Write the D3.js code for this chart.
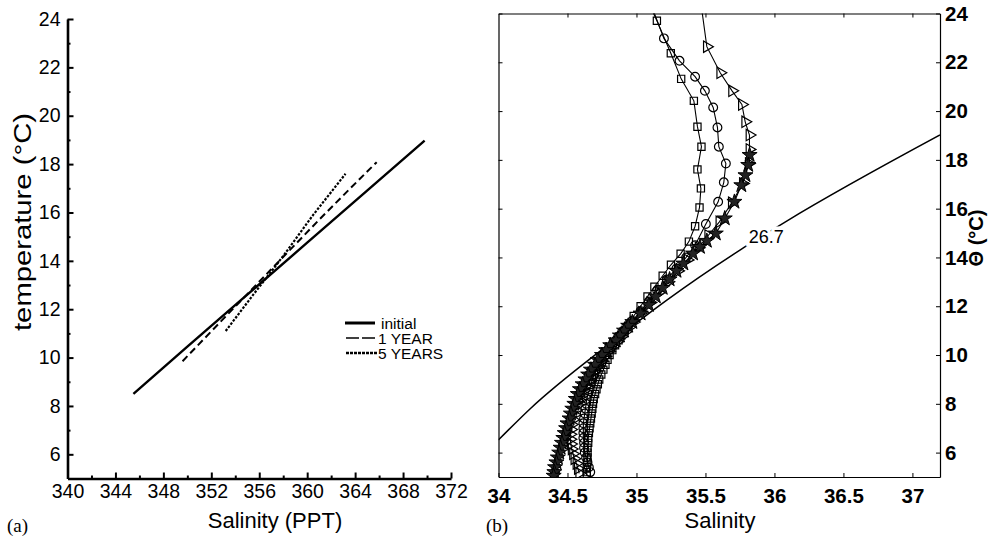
<!DOCTYPE html>
<html>
<head>
<meta charset="utf-8">
<script src="https://cdn.jsdelivr.net/npm/d3@7"></script>
<style>
  body { margin: 0; background: #fff; }
  svg { font-family: "Liberation Sans", Arial, sans-serif; }
</style>
</head>
<body>
<div id="chart"></div>
<script>
// ---- panel (a): T-S lines, salinity in PPT ----
const initialSal = [345.5, 350, 355, 360, 365, 369.8];
const initialTemp = [8.5, 10.45, 12.6, 14.75, 16.9, 18.97];
const year1Sal = [349.6, 353, 357, 361, 363.5, 365.8];
const year1Temp = [9.85, 11.6, 13.65, 15.7, 16.95, 18.08];
const year5Sal = [353.2, 355.5, 358, 360.5, 363.2];
const year5Temp = [11.1, 12.6, 14.2, 15.9, 17.6];
const legendLabels = ["initial", "1 YEAR", "5 YEARS"];
const xTicksA = [340, 344, 348, 352, 356, 360, 364, 368, 372];
const xMinorA = [342, 346, 350, 354, 358, 362, 366, 370];
const yTicksA = [6, 8, 10, 12, 14, 16, 18, 20, 22, 24];
const yMinorA = [7, 9, 11, 13, 15, 17, 19, 21, 23];

// ---- panel (b): theta-S profiles [salinity, theta] ----
const squares = [[35.10,24.3],[35.148,23.70],[35.249,22.37],[35.324,21.32],[35.416,20.42],[35.442,19.36],[35.471,18.54],[35.442,17.61],[35.467,16.83],[35.457,16.05],[35.425,15.28],[35.38,14.65],[35.32,14.15],[35.25,13.7],[35.19,13.25],[35.13,12.8],[35.08,12.4],[35.03,12.0],[34.98,11.6],[34.94,11.2],[34.915,11.0],[34.89,10.8],[34.87,10.6],[34.845,10.4],[34.825,10.2],[34.805,10.0],[34.79,9.8],[34.775,9.6],[34.76,9.4],[34.745,9.2],[34.73,9.0],[34.72,8.8],[34.71,8.6],[34.70,8.4],[34.69,8.2],[34.685,8.0],[34.68,7.8],[34.675,7.6],[34.67,7.4],[34.665,7.2],[34.66,7.0],[34.655,6.8],[34.65,6.6],[34.65,6.4],[34.645,6.2],[34.645,6.0],[34.645,5.8],[34.645,5.6],[34.64,5.4],[34.64,5.2],[34.64,5.05]];
const circles = [[35.11,24.3],[35.199,22.98],[35.312,22.06],[35.425,21.41],[35.496,20.83],[35.556,20.15],[35.587,19.33],[35.597,18.54],[35.648,17.85],[35.633,17.08],[35.592,16.28],[35.503,15.37],[35.425,14.50],[35.36,14.0],[35.29,13.55],[35.22,13.1],[35.15,12.65],[35.09,12.2],[35.03,11.8],[34.97,11.4],[34.94,11.2],[34.91,11.0],[34.88,10.8],[34.85,10.6],[34.825,10.4],[34.80,10.2],[34.775,10.0],[34.75,9.8],[34.73,9.6],[34.71,9.4],[34.695,9.2],[34.68,9.0],[34.67,8.8],[34.66,8.6],[34.65,8.4],[34.64,8.2],[34.635,8.0],[34.63,7.8],[34.625,7.6],[34.62,7.4],[34.615,7.2],[34.615,7.0],[34.615,6.8],[34.615,6.6],[34.62,6.4],[34.62,6.2],[34.625,6.0],[34.635,5.8],[34.645,5.6],[34.655,5.4],[34.665,5.2]];
const triangles = [[35.47,24.3],[35.51,22.64],[35.607,21.57],[35.693,20.83],[35.764,20.27],[35.788,19.56],[35.819,19.02],[35.819,18.43],[35.814,17.85],[35.771,17.03],[35.691,16.24],[35.601,15.46],[35.52,14.9],[35.45,14.4],[35.37,13.9],[35.30,13.45],[35.23,13.0],[35.16,12.55],[35.10,12.15],[35.04,11.75],[34.98,11.35],[34.95,11.15],[34.92,10.95],[34.89,10.75],[34.86,10.55],[34.83,10.35],[34.80,10.15],[34.775,9.95],[34.75,9.75],[34.725,9.55],[34.70,9.35],[34.68,9.15],[34.66,8.95],[34.64,8.75],[34.62,8.55],[34.605,8.35],[34.59,8.15],[34.575,7.95],[34.56,7.75],[34.55,7.55],[34.54,7.35],[34.53,7.15],[34.525,6.95],[34.52,6.75],[34.52,6.55],[34.525,6.35],[34.53,6.15],[34.54,5.95],[34.55,5.75],[34.565,5.55],[34.575,5.35],[34.585,5.15]];
const stars = [[35.82,18.2],[35.81,17.79],[35.79,17.37],[35.76,16.96],[35.71,16.28],[35.64,15.6],[35.575,14.98],[35.51,14.68],[35.46,14.43],[35.41,14.16],[35.34,13.75],[35.29,13.45],[35.24,13.1],[35.19,12.75],[35.14,12.4],[35.09,12.05],[35.03,11.7],[34.97,11.35],[34.94,11.2],[34.91,11.0],[34.88,10.8],[34.85,10.6],[34.81,10.4],[34.78,10.2],[34.75,10.0],[34.72,9.8],[34.70,9.6],[34.67,9.4],[34.65,9.2],[34.63,9.0],[34.61,8.8],[34.59,8.6],[34.575,8.4],[34.56,8.2],[34.55,8.0],[34.535,7.8],[34.525,7.6],[34.515,7.4],[34.50,7.2],[34.49,7.0],[34.48,6.8],[34.47,6.6],[34.46,6.4],[34.45,6.2],[34.44,6.0],[34.43,5.8],[34.42,5.6],[34.41,5.4],[34.405,5.2],[34.40,5.05]];
const sigma267 = [[34,6.52],[34.23,7.8],[34.82,10.53],[35.22,12.25],[35.75,14.3],[36.08,15.46],[37.2,19.02]];
const sigmaLabel = {text: "26.7", s: 35.94, t: 14.85};
const xTicksB = [34, 34.5, 35, 35.5, 36, 36.5, 37];
const yTicksB = [6, 8, 10, 12, 14, 16, 18, 20, 22, 24];

const svg = d3.select("#chart").append("svg")
  .attr("width", 996)
  .attr("height", 536);

// ================= panel (a) =================
const xA = d3.scaleLinear().domain([340, 372]).range([67.5, 451]);
const yA = d3.scaleLinear().domain([5, 24]).range([478.5, 19]);
const gA = svg.append("g");

gA.append("g")
  .attr("transform", `translate(0,${yA(5)})`)
  .call(d3.axisBottom(xA).tickValues(xTicksA).tickSize(-6).tickSizeOuter(0).tickPadding(6));
gA.append("g")
  .attr("transform", `translate(0,${yA(5)})`)
  .call(d3.axisBottom(xA).tickValues(xMinorA).tickSize(-3).tickSizeOuter(0).tickFormat(""))
  .select(".domain").remove();
gA.append("g")
  .attr("transform", `translate(${xA(340)},0)`)
  .call(d3.axisLeft(yA).tickValues(yTicksA).tickSize(-6).tickSizeOuter(0).tickPadding(7));
gA.append("g")
  .attr("transform", `translate(${xA(340)},0)`)
  .call(d3.axisLeft(yA).tickValues(yMinorA).tickSize(-3).tickSizeOuter(0).tickFormat(""))
  .select(".domain").remove();

gA.selectAll(".domain").attr("stroke-width", 2.6);
gA.selectAll(".tick line").attr("stroke-width", 2);
gA.selectAll(".tick text").attr("font-size", 19.5).attr("fill", "#000");

const lineA = d3.line().x(d => xA(d[0])).y(d => yA(d[1]));
const seriesA = [
  {sal: initialSal, temp: initialTemp, dash: null, w: 2.4},
  {sal: year1Sal, temp: year1Temp, dash: "7,4", w: 2},
  {sal: year5Sal, temp: year5Temp, dash: "2.5,1.5", w: 2.2}
];
seriesA.forEach(s => {
  gA.append("path")
    .datum(s.sal.map((v, i) => [v, s.temp[i]]))
    .attr("d", lineA)
    .attr("fill", "none")
    .attr("stroke", "#000")
    .attr("stroke-width", s.w)
    .attr("stroke-dasharray", s.dash);
});

// legend
const legend = gA.append("g").attr("transform", "translate(345,323)");
legendLabels.forEach((lab, i) => {
  legend.append("line")
    .attr("x1", i === 0 ? 0 : 1).attr("x2", i === 0 ? 30 : 33)
    .attr("y1", i * 15).attr("y2", i * 15)
    .attr("stroke", "#000")
    .attr("stroke-width", i === 0 ? 3 : (i === 1 ? 1.3 : 2.6))
    .attr("stroke-dasharray", i === 1 ? "13,3" : (i === 2 ? "3,1" : null));
  legend.append("text")
    .attr("x", i === 0 ? 36 : 33)
    .attr("y", i * 15)
    .attr("dy", "0.36em")
    .attr("font-size", 15.5)
    .text(lab);
});

gA.append("text")
  .attr("transform", "translate(31,222) rotate(-90)")
  .attr("text-anchor", "middle")
  .attr("font-size", 23)
  .attr("textLength", 218)
  .attr("lengthAdjust", "spacingAndGlyphs")
  .text("temperature (°C)");
gA.append("text")
  .attr("x", 275).attr("y", 528)
  .attr("text-anchor", "middle")
  .attr("font-size", 22)
  .text("Salinity (PPT)");
gA.append("text")
  .attr("x", 7).attr("y", 532)
  .attr("font-family", "'Liberation Serif', 'Times New Roman', serif")
  .attr("font-size", 19)
  .text("(a)");

// ================= panel (b) =================
const xB = d3.scaleLinear().domain([34, 37.2]).range([498.5, 940]);
const yB = d3.scaleLinear().domain([5, 24]).range([477, 13.5]);
const gB = svg.append("g");

gB.append("defs").append("clipPath").attr("id", "clipB")
  .append("rect")
  .attr("x", xB(34)).attr("y", yB(24))
  .attr("width", xB(37.2) - xB(34)).attr("height", yB(5) - yB(24));

gB.append("g")
  .attr("transform", `translate(0,${yB(5)})`)
  .call(d3.axisBottom(xB).tickValues(xTicksB).tickSize(-4).tickSizeOuter(0).tickPadding(11).tickFormat(d3.format("~g")));
gB.append("g")
  .attr("transform", `translate(0,${yB(24)})`)
  .call(d3.axisTop(xB).tickValues(xTicksB.slice(1)).tickSize(-4).tickSizeOuter(0).tickFormat(""));
gB.append("g")
  .attr("transform", `translate(${xB(34)},0)`)
  .call(d3.axisLeft(yB).tickValues(yTicksB).tickSize(-4).tickSizeOuter(0).tickFormat(""));
gB.append("g")
  .attr("transform", `translate(${xB(37.2)},0)`)
  .call(d3.axisRight(yB).tickValues(yTicksB).tickSize(-4).tickSizeOuter(0).tickPadding(5));

gB.selectAll(".domain").attr("stroke-width", 1.2);
gB.selectAll(".tick text")
  .attr("font-size", 20.5)
  .attr("font-weight", "bold")
  .attr("fill", "#000");

const plotB = gB.append("g").attr("clip-path", "url(#clipB)");
const lineB = d3.line().x(d => xB(d[0])).y(d => yB(d[1]));

// sigma-theta contour
plotB.append("path")
  .datum(sigma267)
  .attr("d", d3.line().curve(d3.curveMonotoneX).x(d => xB(d[0])).y(d => yB(d[1])))
  .attr("fill", "none")
  .attr("stroke", "#000")
  .attr("stroke-width", 1.5);

const symbolsB = [
  {data: squares, type: d3.symbolSquare, size: 52, rot: 0, w: 1.2, fill: "none"},
  {data: circles, type: d3.symbolCircle, size: 60, rot: 0, w: 1.2, fill: "none"},
  {data: triangles, type: d3.symbolTriangle, size: 56, rot: 90, w: 1.2, fill: "none"},
  {data: stars, type: d3.symbolStar, size: 70, rot: 0, w: 1, fill: "#222"}
];
symbolsB.forEach(s => {
  plotB.append("path")
    .datum(s.data)
    .attr("d", lineB)
    .attr("fill", "none")
    .attr("stroke", "#000")
    .attr("stroke-width", 1.1);
});
symbolsB.forEach(s => {
  plotB.append("g").selectAll("path")
    .data(s.data.filter(d => d[1] <= 24))
    .join("path")
    .attr("transform", d => `translate(${xB(d[0])},${yB(d[1])}) rotate(${s.rot})`)
    .attr("d", d3.symbol(s.type, s.size))
    .attr("fill", s.fill)
    .attr("stroke", "#000")
    .attr("stroke-width", s.w);
});

// contour label
gB.append("text")
  .attr("x", xB(sigmaLabel.s)).attr("y", yB(sigmaLabel.t))
  .attr("dy", "0.35em")
  .attr("text-anchor", "middle")
  .attr("font-size", 18)
  .attr("stroke", "#fff").attr("stroke-width", 7)
  .attr("paint-order", "stroke")
  .attr("fill", "#000")
  .text(sigmaLabel.text);

gB.append("text")
  .attr("x", 720).attr("y", 528)
  .attr("text-anchor", "middle")
  .attr("font-size", 22)
  .text("Salinity");
gB.append("text")
  .attr("transform", "translate(983,238) rotate(-90)")
  .attr("text-anchor", "middle")
  .attr("font-size", 20)
  .attr("font-weight", "bold")
  .text("Θ (°C)");
gB.append("text")
  .attr("x", 486).attr("y", 532)
  .attr("font-family", "'Liberation Serif', 'Times New Roman', serif")
  .attr("font-size", 19)
  .text("(b)");
</script>
</body>
</html>
